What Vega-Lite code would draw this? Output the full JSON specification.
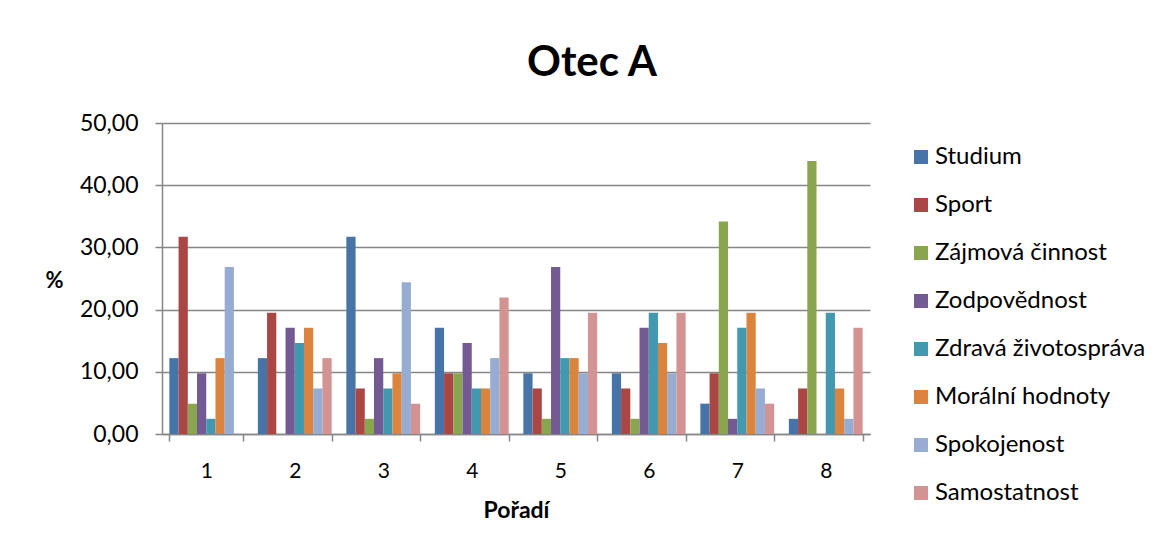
{
  "$schema": "https://vega.github.io/schema/vega-lite/v6.json",
  "autosize": {"type": "none"},
  "width": 708,
  "height": 311,
  "padding": {"left": 162, "top": 123, "right": 295, "bottom": 118},
  "background": "white",
  "title": {
    "text": "Otec A",
    "font": "Lato",
    "fontSize": 42,
    "fontWeight": "bold",
    "color": "#000000",
    "anchor": "middle",
    "frame": "group",
    "dx": 76,
    "offset": 27
  },
  "data": {
    "values": [
      {"poradi": "1", "oblast": "Studium", "procento": 12.20},
      {"poradi": "1", "oblast": "Sport", "procento": 31.71},
      {"poradi": "1", "oblast": "Zájmová činnost", "procento": 4.88},
      {"poradi": "1", "oblast": "Zodpovědnost", "procento": 9.76},
      {"poradi": "1", "oblast": "Zdravá životospráva", "procento": 2.44},
      {"poradi": "1", "oblast": "Morální hodnoty", "procento": 12.20},
      {"poradi": "1", "oblast": "Spokojenost", "procento": 26.83},
      {"poradi": "1", "oblast": "Samostatnost", "procento": 0},
      {"poradi": "2", "oblast": "Studium", "procento": 12.20},
      {"poradi": "2", "oblast": "Sport", "procento": 19.51},
      {"poradi": "2", "oblast": "Zájmová činnost", "procento": 0},
      {"poradi": "2", "oblast": "Zodpovědnost", "procento": 17.07},
      {"poradi": "2", "oblast": "Zdravá životospráva", "procento": 14.63},
      {"poradi": "2", "oblast": "Morální hodnoty", "procento": 17.07},
      {"poradi": "2", "oblast": "Spokojenost", "procento": 7.32},
      {"poradi": "2", "oblast": "Samostatnost", "procento": 12.20},
      {"poradi": "3", "oblast": "Studium", "procento": 31.71},
      {"poradi": "3", "oblast": "Sport", "procento": 7.32},
      {"poradi": "3", "oblast": "Zájmová činnost", "procento": 2.44},
      {"poradi": "3", "oblast": "Zodpovědnost", "procento": 12.20},
      {"poradi": "3", "oblast": "Zdravá životospráva", "procento": 7.32},
      {"poradi": "3", "oblast": "Morální hodnoty", "procento": 9.76},
      {"poradi": "3", "oblast": "Spokojenost", "procento": 24.39},
      {"poradi": "3", "oblast": "Samostatnost", "procento": 4.88},
      {"poradi": "4", "oblast": "Studium", "procento": 17.07},
      {"poradi": "4", "oblast": "Sport", "procento": 9.76},
      {"poradi": "4", "oblast": "Zájmová činnost", "procento": 9.76},
      {"poradi": "4", "oblast": "Zodpovědnost", "procento": 14.63},
      {"poradi": "4", "oblast": "Zdravá životospráva", "procento": 7.32},
      {"poradi": "4", "oblast": "Morální hodnoty", "procento": 7.32},
      {"poradi": "4", "oblast": "Spokojenost", "procento": 12.20},
      {"poradi": "4", "oblast": "Samostatnost", "procento": 21.95},
      {"poradi": "5", "oblast": "Studium", "procento": 9.76},
      {"poradi": "5", "oblast": "Sport", "procento": 7.32},
      {"poradi": "5", "oblast": "Zájmová činnost", "procento": 2.44},
      {"poradi": "5", "oblast": "Zodpovědnost", "procento": 26.83},
      {"poradi": "5", "oblast": "Zdravá životospráva", "procento": 12.20},
      {"poradi": "5", "oblast": "Morální hodnoty", "procento": 12.20},
      {"poradi": "5", "oblast": "Spokojenost", "procento": 9.76},
      {"poradi": "5", "oblast": "Samostatnost", "procento": 19.51},
      {"poradi": "6", "oblast": "Studium", "procento": 9.76},
      {"poradi": "6", "oblast": "Sport", "procento": 7.32},
      {"poradi": "6", "oblast": "Zájmová činnost", "procento": 2.44},
      {"poradi": "6", "oblast": "Zodpovědnost", "procento": 17.07},
      {"poradi": "6", "oblast": "Zdravá životospráva", "procento": 19.51},
      {"poradi": "6", "oblast": "Morální hodnoty", "procento": 14.63},
      {"poradi": "6", "oblast": "Spokojenost", "procento": 9.76},
      {"poradi": "6", "oblast": "Samostatnost", "procento": 19.51},
      {"poradi": "7", "oblast": "Studium", "procento": 4.88},
      {"poradi": "7", "oblast": "Sport", "procento": 9.76},
      {"poradi": "7", "oblast": "Zájmová činnost", "procento": 34.15},
      {"poradi": "7", "oblast": "Zodpovědnost", "procento": 2.44},
      {"poradi": "7", "oblast": "Zdravá životospráva", "procento": 17.07},
      {"poradi": "7", "oblast": "Morální hodnoty", "procento": 19.51},
      {"poradi": "7", "oblast": "Spokojenost", "procento": 7.32},
      {"poradi": "7", "oblast": "Samostatnost", "procento": 4.88},
      {"poradi": "8", "oblast": "Studium", "procento": 2.44},
      {"poradi": "8", "oblast": "Sport", "procento": 7.32},
      {"poradi": "8", "oblast": "Zájmová činnost", "procento": 43.90},
      {"poradi": "8", "oblast": "Zodpovědnost", "procento": 0},
      {"poradi": "8", "oblast": "Zdravá životospráva", "procento": 19.51},
      {"poradi": "8", "oblast": "Morální hodnoty", "procento": 7.32},
      {"poradi": "8", "oblast": "Spokojenost", "procento": 2.44},
      {"poradi": "8", "oblast": "Samostatnost", "procento": 17.07}
    ]
  },
  "mark": {"type": "bar"},
  "encoding": {
    "x": {
      "field": "poradi",
      "type": "ordinal",
      "scale": {"paddingInner": 0.166, "paddingOuter": 0.083},
      "axis": {
        "title": "Pořadí",
        "titleFont": "Lato",
        "titleFontSize": 23,
        "titleFontWeight": "bold",
        "titleColor": "#000000",
        "titlePadding": 18,
        "labelAngle": 0,
        "labelFont": "Lato",
        "labelFontSize": 21,
        "labelColor": "#000000",
        "labelPadding": 19,
        "tickBand": "extent",
        "tickSize": 7,
        "tickColor": "#868686",
        "tickWidth": 1.5,
        "domainColor": "#868686",
        "domainWidth": 1.5,
        "grid": false
      }
    },
    "xOffset": {
      "field": "oblast",
      "type": "nominal",
      "sort": ["Studium", "Sport", "Zájmová činnost", "Zodpovědnost", "Zdravá životospráva", "Morální hodnoty", "Spokojenost", "Samostatnost"],
      "scale": {"paddingInner": 0, "paddingOuter": 0}
    },
    "y": {
      "field": "procento",
      "type": "quantitative",
      "scale": {"domain": [0, 50], "nice": false},
      "axis": {
        "values": [0, 10, 20, 30, 40, 50],
        "labelExpr": "replace(format(datum.value, '.2f'), '.', ',')",
        "title": "%",
        "titleAngle": 0,
        "titleFont": "Lato",
        "titleFontSize": 22,
        "titleFontWeight": "bold",
        "titleColor": "#000000",
        "titleX": -108,
        "titleY": 157,
        "titleAlign": "center",
        "titleBaseline": "middle",
        "labelFont": "Lato",
        "labelFontSize": 23,
        "labelColor": "#000000",
        "labelPadding": 17,
        "tickSize": 7,
        "tickColor": "#868686",
        "tickWidth": 1.5,
        "domainColor": "#868686",
        "domainWidth": 1.5,
        "grid": true,
        "gridColor": "#868686",
        "gridWidth": 1.5
      }
    },
    "color": {
      "field": "oblast",
      "type": "nominal",
      "scale": {
        "domain": ["Studium", "Sport", "Zájmová činnost", "Zodpovědnost", "Zdravá životospráva", "Morální hodnoty", "Spokojenost", "Samostatnost"],
        "range": ["#4674A9", "#AA4644", "#89A54E", "#735A92", "#4198AF", "#DB843D", "#96ACD2", "#D39393"]
      },
      "legend": {
        "title": null,
        "orient": "none",
        "legendX": 747,
        "legendY": 22,
        "symbolType": "square",
        "symbolSize": 196,
        "symbolStrokeWidth": 0,
        "labelFont": "Lato",
        "labelFontSize": 24,
        "labelColor": "#000000",
        "labelOffset": 2,
        "rowPadding": 24,
        "padding": 0,
        "labelLimit": 300
      }
    }
  },
  "config": {
    "view": {"stroke": null}
  }
}
